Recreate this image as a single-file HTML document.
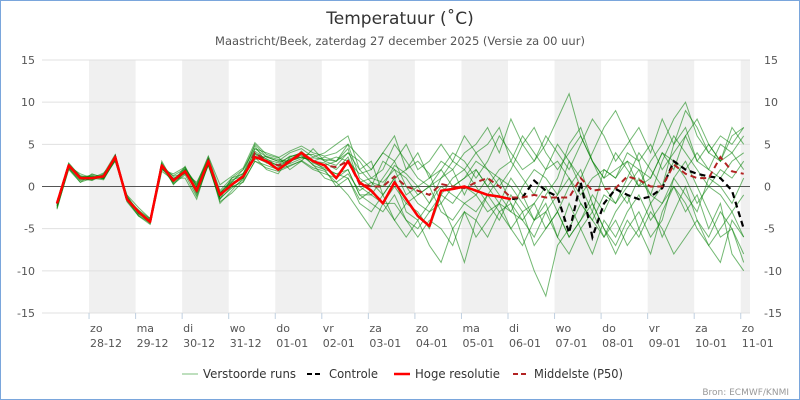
<!DOCTYPE html>
<html><head><meta charset="utf-8"><style>
html,body{margin:0;padding:0;background:#fff}
svg{display:block;font-family:"DejaVu Sans","Liberation Sans",sans-serif}
</style></head><body>
<svg id="chart" width="800" height="400" viewBox="0 0 800 400">
<rect x="0.5" y="0.5" width="799" height="399" fill="#fff" stroke="#7aa6dc"/>
<text x="400" y="24" text-anchor="middle" font-size="17" fill="#333">Temperatuur (˚C)</text>
<text x="400" y="45" text-anchor="middle" font-size="11.5" fill="#555">Maastricht/Beek, zaterdag 27 december 2025 (Versie za 00 uur)</text>
<g id="bands"></g><g id="grid"></g><g id="xaxis"></g><g id="series"></g>
<g>
<g><line x1="182" y1="374" x2="198" y2="374" stroke="#a8d4a8" stroke-width="1.5"/><text x="203" y="378" font-size="12" fill="#333" textLength="93" lengthAdjust="spacingAndGlyphs">Verstoorde runs</text></g>
<g><line x1="307" y1="374" x2="323" y2="374" stroke="#000" stroke-width="2" stroke-dasharray="5,3"/><text x="329" y="378" font-size="12" fill="#333" textLength="49" lengthAdjust="spacingAndGlyphs">Controle</text></g>
<g><line x1="394" y1="374" x2="410" y2="374" stroke="#f00" stroke-width="2.5"/><text x="415" y="378" font-size="12" fill="#333" textLength="85" lengthAdjust="spacingAndGlyphs">Hoge resolutie</text></g>
<g><line x1="513" y1="374" x2="528" y2="374" stroke="#b22222" stroke-width="2" stroke-dasharray="5,3"/><text x="534" y="378" font-size="12" fill="#333" textLength="89" lengthAdjust="spacingAndGlyphs">Middelste (P50)</text></g>
</g>
<text x="789" y="395" text-anchor="end" font-size="9" fill="#999">Bron: ECMWF/KNMI</text>
</svg>
<script>
const dayNames=["zo","ma","di","wo","do","vr","za","zo","ma","di","wo","do","vr","za","zo"];
const dayDates=["28-12","29-12","30-12","31-12","01-01","02-01","03-01","04-01","05-01","06-01","07-01","08-01","09-01","10-01","11-01"];
const yTicks=[15,10,5,0,-5,-10,-15];
const hires=[-2,2.5,1,1,1.2,3.5,-1.5,-3,-4.2,2.5,0.7,1.8,-0.5,3,-1,0.2,1.2,3.5,3,2,3,4,3,2.5,1,3,0.5,-0.5,-2,0.5,-1.5,-3.5,-4.7,-0.5,-0.3,0,-0.5,-1,-1.2,-1.5];
const control=[-2,2.5,1,1,1.2,3.5,-1.5,-3,-4.2,2.5,0.7,1.8,-0.5,3,-1,0.2,1.2,3.5,3,2,3,4,3,2.5,1,3,0.5,-0.5,-2,0.5,-1.5,-3.5,-4.7,-0.5,-0.3,0,-0.5,-1,-1.2,-1.5,-1.3,0.7,-0.5,-1.2,-5.5,0.5,-6,-2,-0.3,-1,-1.5,-1.2,-0.2,3,2,1.5,1.2,1,-0.5,-5];
const median=[-2,2.5,1,1,1.2,3.5,-1.5,-3,-4.2,2.5,0.8,1.8,-0.5,3,-1,0.2,1.2,4,3,2.5,3,3.8,3,2.5,2.3,3,0.3,0,0,1.2,0,-0.5,-1,0.3,0,-0.2,0.5,1,0,-1.3,-1.3,-1,-1.3,-1.3,-1.3,1,-0.5,-0.3,-0.2,1.2,0.8,0,0,2.6,1.5,1,1,3.5,1.8,1.5];
const m1=[-2.5,2,0.5,1.5,1,3,-1,-2.5,-3.8,2,1.5,2.3,0,3.5,-0.5,1,1.5,5,3.5,3,4,4.5,3.5,4,5,6,2,3,-1,1,2,3,1.5,-2,0,1,3,2,1,0,-2,-4,-1,1,5,7,3,0,-2,1,4,2,0,5,7,3,2,5,4,6];
const m2=[-2,2.8,1.2,0.8,1.5,3.8,-1.2,-3.2,-4,3,0.5,2,-1,2.5,-1.5,0,0.5,3,2.5,2,2.5,3,2,1.5,1,2,-1,-2,-3,-1,-4,-5,-3,-2,-5,-9,-4,-1,-3,-2,-6,-10,-13,-7,-5,-2,-4,-6,-3,-1,-5,-8,-3,0,-2,-5,-7,-9,-4,-6];
const m3=[-1.8,2.6,1,1.2,1,3.3,-1.8,-3.5,-4.3,2.3,1,1.5,0.5,3.2,-1.2,0.5,2,4.5,4,3.5,2,3,4.5,3,2.5,4,3,1,2,5,3,1,0,2,4,3,1,3,6,4,2,3,5,8,11,6,3,1,4,2,0,3,5,8,10,6,4,3,7,5];
const m4=[-2.2,2.2,0.8,0.8,1.3,3.6,-1.3,-3,-4.1,2.7,0.2,1.8,-0.8,3,-2,-0.5,1,3.5,2,1.5,3.5,4,2.5,2,0,1,-2,-3,-1,-4,-2,-3,-5,-1,-2,0,-1,-3,-2,1,-1,-4,-3,-6,-2,-5,-8,-4,-6,-3,-1,-4,-2,0,-3,-1,-5,-2,-8,-10];
const m5=[-2,2.4,1.5,1,0.8,3.2,-1.6,-2.8,-4.3,2,1,1,-1.5,2.8,-0.8,0.5,1,4,3,2.5,3.2,3.5,3,2.5,3,5,1,0,3,2,-1,0,-2,1,2,-1,2,0,-2,-3,0,2,1,-1,3,0,-3,2,1,4,3,-2,0,3,1,-2,0,2,1,3];
const m6=[-2.3,2.5,1,1.4,1.2,3.4,-1,-3.3,-4,2.6,0.6,2.2,0,3,-1,0,1.5,4.2,3.2,2.8,3.5,4,3,3.5,3,4.5,0,-1,1,3,0,-2,-3,-1,1,2,0,-2,-4,-1,-3,-2,0,-3,-6,-4,-1,-3,0,-2,1,-1,3,6,4,2,0,-1,-3,-1];
const m7=[-2.7,2.2,0.5,1,1.6,3,-1.5,-3.5,-4.5,1.8,0.8,2,-0.3,3,-0.8,0.8,1.2,4.5,3.5,3,3,3.5,3,2,1.5,2,-1,-1,-2,0,-2,-1,0,-3,-4,-2,-1,1,-1,-3,-4,-2,-5,-3,0,2,-2,-5,-8,-5,-3,-6,-4,1,3,0,-3,-6,-5,-8];
const m8=[-1.9,2.6,1,1,1,3.7,-1.4,-2.8,-3.8,2.2,0.4,1.6,-0.5,2.5,-1.5,1,2,4.8,2.8,2.2,3.3,3.8,3.8,3,3.5,3,1.5,2,4,6,2,4,1,3,2,4,5,7,4,8,5,3,6,4,2,5,8,6,3,5,7,4,8,5,9,7,4,6,5,7];
const m9=[-2.4,2.3,1,0.7,1.4,3.6,-1.3,-3.1,-4.4,2.4,0.6,2.4,-0.4,2.8,-1.4,-0.2,0.8,3.8,3,2,2.8,4.2,2.8,2.2,1.5,1,-1.5,-0.5,-2,-2,-4,-6,-4,-5,-7,-3,-4,-6,-3,-5,-7,-4,-2,-6,-8,-5,-3,-6,-4,-7,-5,-2,-6,-3,0,-4,-6,-3,-5,-9];
const m10=[-2.1,2.7,1.2,1.2,0.9,3.5,-1.2,-2.9,-3.9,2.6,0.9,1.9,0.2,3.1,-0.7,0.6,1.6,3.2,3.6,3.2,3,3.5,3,2.8,2,3.5,0.5,1,0.5,2,1,-1,0,1,3,2,4,2,0,2,5,7,4,2,4,6,3,1,2,3,0,1,4,2,6,3,5,3,4,2];
const m11=[-2.3,2.4,0.9,1.1,1,3.5,-1.6,-3.2,-4.1,2.8,0.7,1.7,-0.2,3.3,-1.1,0.3,1.1,3.5,2.8,2.6,3.6,3.7,2.6,1,0.5,1.5,-0.5,0.5,-1,1,-3,-4,-2,0,-1,-2,-3,-1,1,-2,-4,-6,-3,-1,1,-2,-4,-1,-2,0,2,-1,-2,1,-1,-3,1,0,-2,1];
const m12=[-2,2.5,1.3,0.9,1.1,3.3,-1.5,-3,-4,2.5,1.2,1.6,-0.6,2.7,-0.9,0.2,1,3.9,3.3,2.4,2.7,3.3,3.4,3.2,3,4,2,0.5,0,2.5,1.5,0,1,2,0,1,2,0,2,3,1,-1,2,3,1,-1,1,2,1,3,2,1,4,3,2,4,2,1,3,4];
const m13=[-2.6,2.1,0.7,1.3,0.9,3.1,-1.7,-3.4,-4.2,2.1,1.3,2.1,0.3,3.6,0.2,1.2,2.2,5.2,3.8,3.4,4.2,4.8,4,3.6,4,5,3.5,2,4,3,5,2,3,5,3,6,4,5,7,3,6,4,2,5,3,1,4,7,9,6,3,5,2,4,6,8,5,3,6,7];
const m14=[-2.1,2.6,1.1,0.9,1.4,3.4,-1.4,-3,-4.3,2.6,0.3,1.4,-1.2,2.6,-1.8,-0.8,0.6,3,2.2,1.8,2.4,3.1,2.2,1.8,0.5,-1,-3,-5,-2,-4,-6,-4,-7,-9,-5,-3,-6,-4,-2,-5,-3,-7,-5,-3,-6,-4,-2,-5,-7,-4,-6,-3,-5,-8,-6,-4,-7,-5,-3,-6];
const members=[m1,m2,m3,m4,m5,m6,m7,m8,m9,m10,m11,m12,m13,m14];

const NS="http://www.w3.org/2000/svg";
const X0=42.5,DAY=46.55,L=42,R=750,T=60,B=313;
const xScale=i=>X0+DAY*(i+1.25)/4;
const dayX=d=>X0+DAY*(d+1);
const yScale=v=>186.5-v*(B-T)/30;
function mk(tag,attrs,parent){const e=document.createElementNS(NS,tag);for(const k in attrs)e.setAttribute(k,attrs[k]);parent.appendChild(e);return e;}
const bands=document.getElementById('bands'),grid=document.getElementById('grid'),xa=document.getElementById('xaxis'),ser=document.getElementById('series');
for(let d=0;d<dayNames.length;d++){
  if(d%2===0){const w=Math.min(DAY,R-dayX(d));
    const r=mk('rect',{x:dayX(d),y:T,width:w,height:B-T,fill:'#f0f0f0'},bands);
    
    }
  const tk=mk('line',{x1:dayX(d),x2:dayX(d),y1:B,y2:B+6,stroke:'#c0d0e0'},xa);
  
  
  const t1=mk('text',{x:dayX(d)+1,y:332,'font-size':11,fill:'#555'},xa);t1.textContent=dayNames[d];
  
  
  const t2=mk('text',{x:dayX(d)+1,y:347,'font-size':11,fill:'#555'},xa);t2.textContent=dayDates[d];
  
  
}
for(const v of yTicks){
  const y=yScale(v);
  const g=mk('line',{x1:L,x2:R,y1:y,y2:y,stroke:v===0?'#555':'#e0e0e0','stroke-width':1},grid);
  
  
  const a=mk('text',{x:35,y:y+4,'text-anchor':'end','font-size':11,fill:'#555'},grid);a.textContent=v;
  
  
  const b=mk('text',{x:764,y:y+4,'font-size':11,fill:'#555'},grid);b.textContent=v;
  
  
}
const pts=a=>a.map((v,i)=>xScale(i).toFixed(1)+','+yScale(v).toFixed(1)).join(' ');
members.forEach(m=>{
  const p=mk('polyline',{points:pts(m),fill:'none',stroke:'rgba(0,128,0,0.55)','stroke-width':1},ser);
  
  
});
let p=mk('polyline',{points:pts(control),fill:'none',stroke:'#000','stroke-width':2.2,'stroke-dasharray':'6,4'},ser);


p=mk('polyline',{points:pts(median),fill:'none',stroke:'#b22222','stroke-width':2,'stroke-dasharray':'6,4'},ser);


p=mk('polyline',{points:pts(hires),fill:'none',stroke:'#f00','stroke-width':2.5,'stroke-linejoin':'round'},ser);


</script>
</body></html>
